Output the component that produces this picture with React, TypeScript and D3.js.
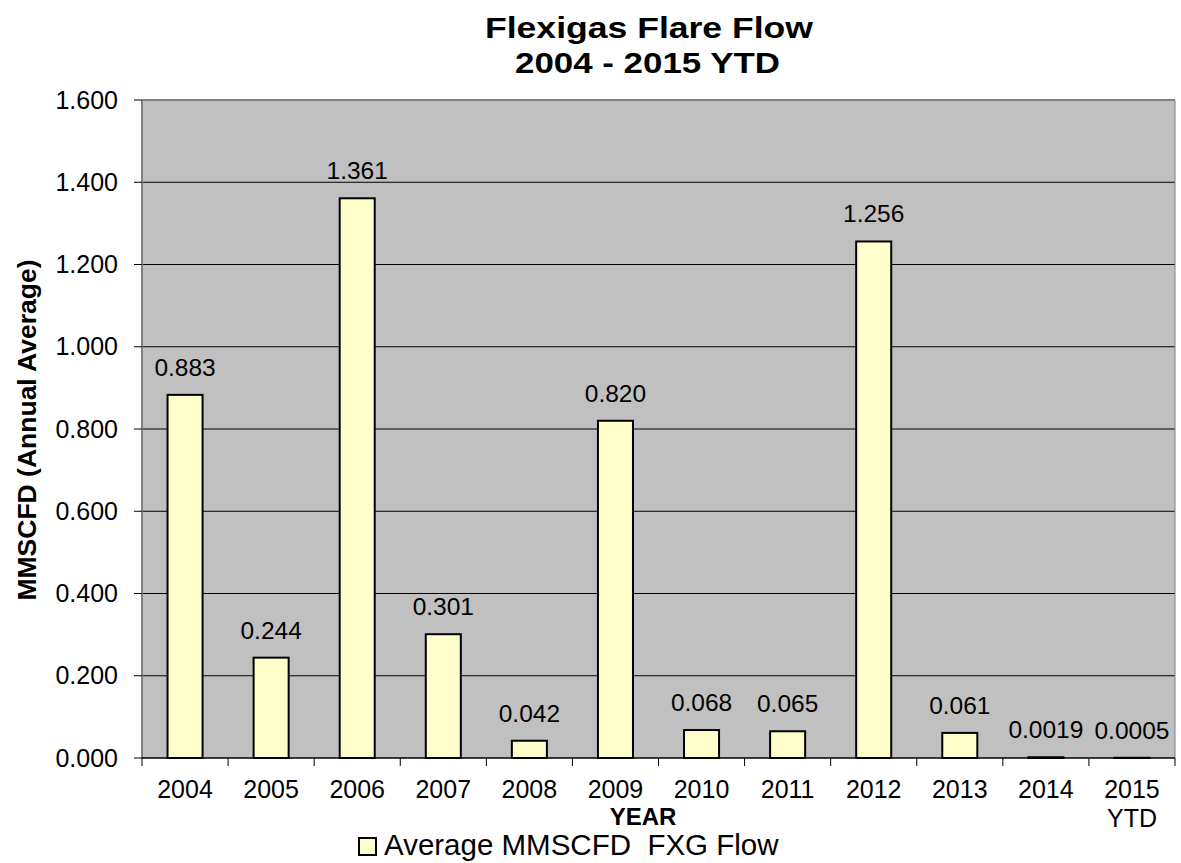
import React from "react";
import * as d3 from "d3";

const categories = ["2004", "2005", "2006", "2007", "2008", "2009", "2010", "2011", "2012", "2013", "2014", "2015\nYTD"];
const values = [0.883, 0.244, 1.361, 0.301, 0.042, 0.82, 0.068, 0.065, 1.256, 0.061, 0.0019, 0.0005];
const valueLabels = ["0.883", "0.244", "1.361", "0.301", "0.042", "0.820", "0.068", "0.065", "1.256", "0.061", "0.0019", "0.0005"];
const yTicks = [0, 0.2, 0.4, 0.6, 0.8, 1.0, 1.2, 1.4, 1.6];

const W = 1181, H = 863;
const left = 142, right = 1175, top = 100, bottom = 758;
const font = "Arial, 'Liberation Sans', sans-serif";

export default function App() {
  const x = d3.scaleBand().domain(categories).range([left, right]).paddingInner(0).paddingOuter(0);
  const y = d3.scaleLinear().domain([0, 1.6]).range([bottom, top]);
  const bw = x.bandwidth() * 0.407;
  return (
    <svg width={W} height={H} style={{ position: "absolute", left: 0, top: 0 }} fontFamily={font}>
      <rect x={0} y={0} width={W} height={H} fill="#fff" />
      <text x={649} y={38} textAnchor="middle" fontSize={30} fontWeight="bold" textLength={328} lengthAdjust="spacingAndGlyphs">Flexigas Flare Flow</text>
      <text x={647.5} y={73} textAnchor="middle" fontSize={30} fontWeight="bold" textLength={265} lengthAdjust="spacingAndGlyphs">2004 - 2015 YTD</text>
      <rect x={left} y={top} width={right - left} height={bottom - top} fill="#C0C0C0" />
      {yTicks.slice(1, -1).map((t) => (
        <line key={t} x1={left} x2={right} y1={y(t)} y2={y(t)} stroke="#000" strokeWidth={1} />
      ))}
      <line x1={left} x2={right} y1={top} y2={top} stroke="#808080" strokeWidth={2} />
      <line x1={right} x2={right} y1={top} y2={bottom} stroke="#808080" strokeWidth={1} />
      <line x1={left} x2={left} y1={top} y2={bottom} stroke="#808080" strokeWidth={2} />
      {yTicks.map((t) => (
        <g key={"yt" + t}>
          <line x1={left - 8} x2={left} y1={y(t)} y2={y(t)} stroke="#000" strokeWidth={1} />
          <text x={118} y={y(t) + 8.5} textAnchor="end" fontSize={25}>{t.toFixed(3)}</text>
        </g>
      ))}
      {categories.map((c, i) => {
        const cx = (x(c) as number) + x.bandwidth() / 2;
        const h = Math.max(bottom - y(values[i]), 0);
        return (
          <g key={c}>
            <rect x={cx - bw / 2} y={y(values[i])} width={bw} height={h} fill="#FFFFCC" stroke="#000" strokeWidth={2} />
            <text x={cx} y={y(values[i]) - 19} textAnchor="middle" fontSize={24.5}>{valueLabels[i]}</text>
            {c.split("\n").map((part, j) => (
              <text key={j} x={cx} y={798 + j * 29} textAnchor="middle" fontSize={25}>{part}</text>
            ))}
          </g>
        );
      })}
      <line x1={left} x2={right} y1={bottom} y2={bottom} stroke="#000" strokeWidth={1.5} />
      {d3.range(categories.length + 1).map((i) => {
        const xx = left + i * x.bandwidth();
        return <line key={"xt" + i} x1={xx} x2={xx} y1={bottom} y2={bottom + 8} stroke="#000" strokeWidth={1} />;
      })}
      <text x={643} y={825} textAnchor="middle" fontSize={24} fontWeight="bold">YEAR</text>
      <text transform={`translate(36,430) rotate(-90)`} textAnchor="middle" fontSize={26.5} fontWeight="bold">MMSCFD (Annual Average)</text>
      <rect x={359} y={838} width={17} height={17} fill="#FFFFCC" stroke="#000" strokeWidth={2} />
      <text x={384} y={855} fontSize={29.5} style={{ whiteSpace: "pre" }}>Average MMSCFD  FXG Flow</text>
    </svg>
  );
}
